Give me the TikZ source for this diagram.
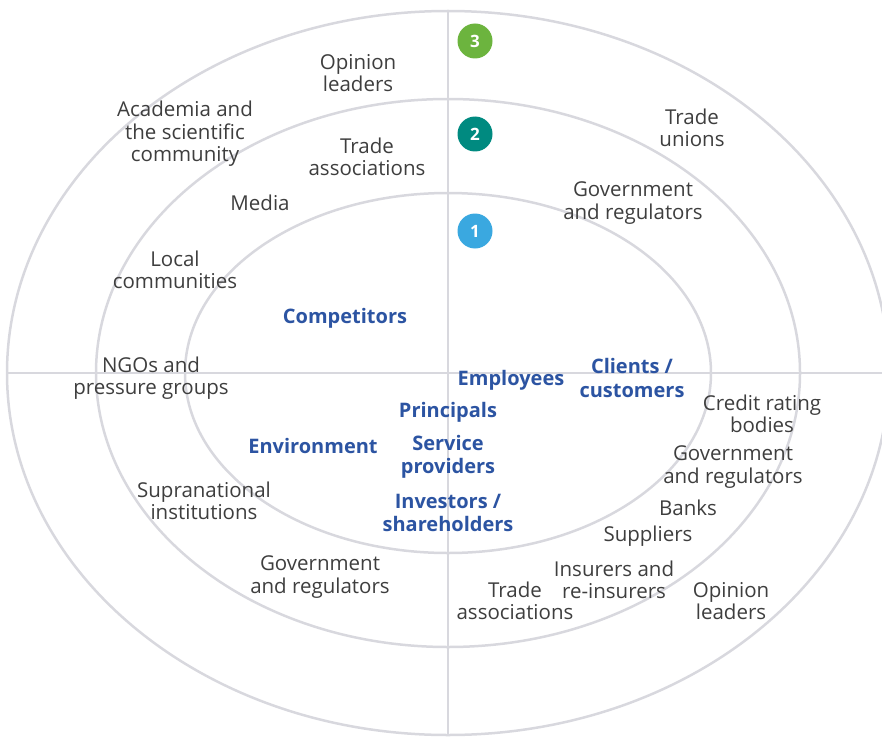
\documentclass[tikz,border=0pt]{standalone}
\usepackage{fontspec}
\setmainfont{Open Sans}
\definecolor{ringgray}{RGB}{216,216,222}
\definecolor{labelgray}{RGB}{62,62,62}
\definecolor{keyblue}{RGB}{44,84,162}
\definecolor{ringone}{RGB}{58,168,224}
\definecolor{ringtwo}{RGB}{0,138,128}
\definecolor{ringthree}{RGB}{108,180,62}
\tikzset{
  ring/.style={draw=ringgray, line width=2.5pt},
  party/.style={text=labelgray, align=center, inner sep=0pt,
    font=\fontsize{20.5}{22.5}\selectfont},
  keyparty/.style={party, text=keyblue,
    font=\fontsize{20}{23.5}\selectfont\bfseries},
  badge/.style={circle, fill=#1, text=white, minimum size=35pt, inner sep=0pt,
    font=\fontsize{17}{17}\selectfont\bfseries}
}
\begin{document}
\begin{tikzpicture}[x=1pt,y=-1pt]
\useasboundingbox (0,0) rectangle (882,738);
\clip (0,0) rectangle (882,738);
% the three rings and the quadrant lines
\draw[ring] (448,373) ellipse [x radius=441pt, y radius=362pt];
\draw[ring] (448,373) ellipse [x radius=352pt, y radius=274pt];
\draw[ring] (448,373) ellipse [x radius=263pt, y radius=180pt];
\draw[ring] (448,11) -- (448,735);
\draw[ring] (7,373) -- (882,373);

\node[badge=ringthree] (b3) at (475,41) {3};
\node[badge=ringtwo] (b2) at (475,134) {2};
\node[badge=ringone] (b1) at (475,231) {1};

% ring 3
\node[party] (opinion1) at (358,73) {Opinion\\leaders};
\node[party] (academia) at (185,134) {Academia and\\the scientific\\community};
\node[party] (unions) at (692,128) {Trade\\unions};
\node[party] (ngos) at (151,378) {NGOs and\\pressure groups};
\node[party] (supra) at (204,501) {Supranational\\institutions};
\node[party] (gov3) at (320,577) {Government\\and regulators};
\node[party] (trade3) at (515,601) {Trade\\associations};
\node[party] (opinion3) at (731,601) {Opinion\\leaders};

% ring 2
\node[party] (trade2) at (367,157) {Trade\\associations};
\node[party] (media) at (260,203) {Media};
\node[party] (gov2) at (633,203) {Government\\and regulators};
\node[party] (local) at (175,270) {Local\\communities};
\node[party] (credit) at (762,414) {Credit rating\\bodies};
\node[party] (gov2b) at (733,467) {Government\\and regulators};
\node[party] (banks) at (688,508) {Banks};
\node[party] (suppliers) at (648,536) {Suppliers};
\node[party] (insurers) at (614,580) {Insurers and\\re-insurers};

% ring 1
\node[keyparty] (competitors) at (345,318) {Competitors};
\node[keyparty] (employees) at (511,380) {Employees};
\node[keyparty] (clients) at (632,378) {Clients /\\customers};
\node[keyparty] (principals) at (448,412) {Principals};
\node[keyparty] (environment) at (313,446) {Environment};
\node[keyparty] (service) at (448,457) {Service\\providers};
\node[keyparty] (investors) at (448,513) {Investors /\\shareholders};
\end{tikzpicture}
\end{document}
